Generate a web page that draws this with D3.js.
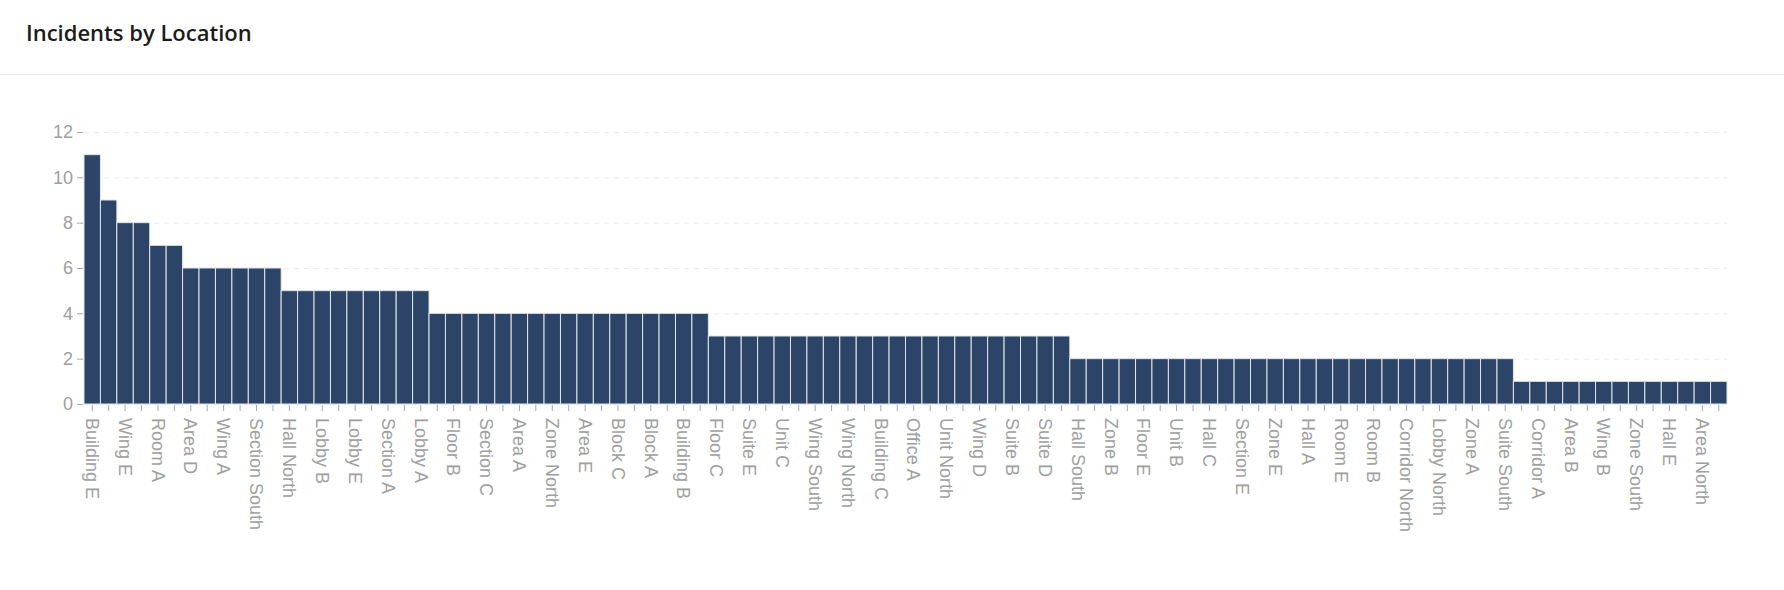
<!DOCTYPE html>
<html>
<head>
<meta charset="utf-8">
<script src="https://cdn.jsdelivr.net/npm/d3@7"></script>
<style>
  body { margin: 0; background: #fff; }
  .title { font-family: "Open Sans", "Noto Sans", sans-serif; font-weight: 600; font-size: 22px; fill: #1b1b1b; }
  .axis text { font-family: "Liberation Sans", Arial, sans-serif; font-size: 18px; fill: #a0a0a0; }
  .axis line { stroke: #a8a8a8; }
  .grid line { stroke: #ececec; stroke-dasharray: 5,5; }
</style>
</head>
<body>
<div id="chart"></div>
<script>
var width = 1784,
    height = 590;

// locations, sorted by incident count (every other label is shown on the axis)
var locations = [
  "Building E", "Office C", "Wing E", "Room D", "Room A", "Block E",
  "Area D", "Unit A", "Wing A", "Corridor B", "Section South", "Floor A",
  "Hall North", "Suite A", "Lobby B", "Building A", "Lobby E", "Zone C",
  "Section A", "Section B", "Lobby A", "Hall B", "Floor B", "Area C",
  "Section C", "Office B", "Area A", "Room C", "Zone North", "Block B",
  "Area E", "Unit D", "Block C", "Corridor C", "Block A", "Floor D",
  "Building B", "Suite C", "Floor C", "Building D", "Suite E", "Zone D",
  "Unit C", "Section D", "Wing South", "Hall D", "Wing North", "Lobby C",
  "Building C", "Office D", "Office A", "Room North", "Unit North", "Block D",
  "Wing D", "Unit E", "Suite B", "Corridor D", "Suite D", "Wing C",
  "Hall South", "Office E", "Zone B", "Area South", "Floor E", "Block North",
  "Unit B", "Floor North", "Hall C", "Lobby South", "Section E", "Room South",
  "Zone E", "Building North", "Hall A", "Corridor E", "Room E", "Suite North",
  "Room B", "Office North", "Corridor North", "Block South", "Lobby North", "Unit South",
  "Zone A", "Floor South", "Suite South", "Building South", "Corridor A", "Office South",
  "Area B", "Corridor South", "Wing B", "Lobby D", "Zone South", "Section North",
  "Hall E", "Room West", "Area North", "Block West"
];

var incidents = [
  11, 9, 8, 8, 7, 7,
  6, 6, 6, 6, 6, 6,
  5, 5, 5, 5, 5, 5, 5, 5, 5,
  4, 4, 4, 4, 4, 4, 4, 4, 4, 4, 4, 4, 4, 4, 4, 4, 4,
  3, 3, 3, 3, 3, 3, 3, 3, 3, 3, 3, 3, 3, 3, 3, 3, 3, 3, 3, 3, 3, 3,
  2, 2, 2, 2, 2, 2, 2, 2, 2, 2, 2, 2, 2, 2, 2, 2, 2, 2, 2, 2, 2, 2, 2, 2, 2, 2, 2,
  1, 1, 1, 1, 1, 1, 1, 1, 1, 1, 1, 1, 1
];

var yTicks = [0, 2, 4, 6, 8, 10, 12];

var data = locations.map(function(d, i) { return {name: d, value: incidents[i]}; });

var svg = d3.select("#chart").append("svg")
    .attr("width", width)
    .attr("height", height);

svg.append("text")
    .attr("class", "title")
    .attr("x", 26)
    .attr("y", 41)
    .text("Incidents by Location");

svg.append("line")
    .attr("x1", 0).attr("x2", width)
    .attr("y1", 74.5).attr("y2", 74.5)
    .attr("stroke", "#ececec");

var x = d3.scaleBand()
    .domain(locations)
    .range([84, 1727])
    .padding(0);

var y = d3.scaleLinear()
    .domain([0, 12])
    .range([404, 132]);

// dashed grid
svg.append("g")
    .attr("class", "grid")
    .attr("transform", "translate(84,0)")
    .call(d3.axisLeft(y).tickValues(yTicks).tickSize(-(1727 - 84)).tickFormat(""))
    .call(function(g) { g.select(".domain").remove(); });

svg.append("g")
  .selectAll("rect")
  .data(data)
  .enter().append("rect")
    .attr("x", function(d) { return x(d.name); })
    .attr("y", function(d) { return y(d.value); })
    .attr("width", x.bandwidth())
    .attr("height", function(d) { return y(0) - y(d.value); })
    .attr("fill", "#2c4467")
    .attr("stroke", "#e2e4e8")
    .attr("stroke-width", 1);

// y axis
svg.append("g")
    .attr("class", "axis")
    .attr("transform", "translate(83,0)")
    .call(d3.axisLeft(y).tickValues(yTicks).tickSize(6).tickPadding(4))
    .call(function(g) { g.select(".domain").remove(); });

// x axis
var xAxis = svg.append("g")
    .attr("class", "axis")
    .attr("transform", "translate(0," + 405 + ")")
    .call(d3.axisBottom(x).tickSize(6).tickFormat(function(d, i) { return i % 2 === 0 ? d : ""; }));

xAxis.select(".domain").remove();

xAxis.selectAll("text")
    .attr("transform", "rotate(90)")
    .attr("x", 13)
    .attr("y", 0)
    .attr("dy", "0.35em")
    .style("text-anchor", "start");
</script>
</body>
</html>
